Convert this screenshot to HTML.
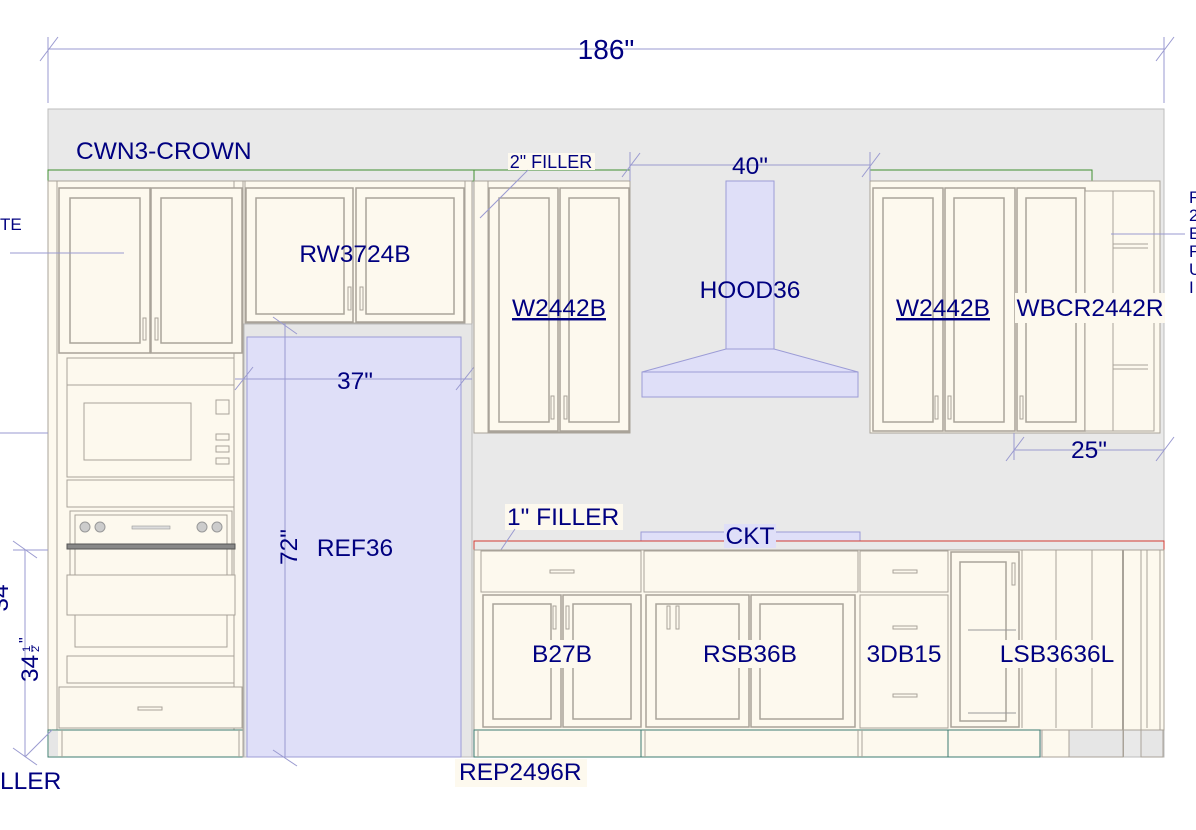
<!DOCTYPE html>
<html><head><meta charset="utf-8"><style>
html,body{margin:0;padding:0;background:#fff;}
svg{display:block;font-family:"Liberation Sans",Arial,sans-serif;}
.t{fill:#000080;}
.c{fill:#fdf9ee;stroke:#a9a399;stroke-width:1;}
.d{fill:#fdf9ee;stroke:#a9a399;stroke-width:1.5;}
.p{fill:none;stroke:#aaa49a;stroke-width:1.5;}
.dim{stroke:#9a9ad0;stroke-width:1;fill:none;}
.tk{fill:#fdf9ee;stroke:#3d7c72;stroke-width:1;}
.blue{fill:#dfdff8;stroke:#9c9cd6;stroke-width:1;}
.h{fill:#fdf9ee;stroke:#a9a399;stroke-width:1;}
</style></head><body>
<svg width="1196" height="830" viewBox="0 0 1196 830" xmlns="http://www.w3.org/2000/svg">
<rect width="1196" height="830" fill="#fff"/>
<line class="dim" x1="48" y1="49" x2="1164" y2="49"/>
<line class="dim" x1="48" y1="37" x2="48" y2="103"/>
<line class="dim" x1="1164" y1="37" x2="1164" y2="103"/>
<line class="dim" x1="40" y1="61" x2="58" y2="37"/>
<line class="dim" x1="1156" y1="61" x2="1174" y2="37"/>
<text class="t" x="606" y="59" font-size="28" text-anchor="middle">186"</text>
<rect x="48" y="109" width="1116" height="648" fill="#e9e9e9" stroke="#bdbdbd"/>
<rect x="48" y="170" width="426" height="11" fill="#e9e9e9" stroke="#3f8f30"/>
<rect x="474" y="170" width="156" height="11" fill="#e9e9e9" stroke="#3f8f30"/>
<rect x="870" y="170" width="222" height="11" fill="#e9e9e9" stroke="#3f8f30"/>
<text class="t" x="76" y="159" font-size="24.5">CWN3-CROWN</text>

<rect class="c" x="48" y="181" width="195" height="549"/>
<rect class="c" x="57" y="181" width="177" height="549"/>
<rect class="d" x="59" y="188" width="91" height="165"/>
<rect class="d" x="151" y="188" width="91" height="165"/>
<rect class="p" x="70" y="198" width="70" height="145"/>
<rect class="p" x="161" y="198" width="71" height="145"/>
<rect class="h" x="143" y="318" width="3" height="22"/><rect class="h" x="155" y="318" width="3" height="22"/>
<rect class="c" x="67" y="358" width="167" height="27"/>
<rect class="c" x="67" y="385" width="167" height="92"/>
<rect class="c" x="84" y="403" width="107" height="57"/>
<rect class="c" x="216" y="400" width="13" height="14"/>
<rect class="c" x="216" y="434" width="13" height="6"/><rect class="c" x="216" y="446" width="13" height="6"/><rect class="c" x="216" y="458" width="13" height="6"/>
<rect class="c" x="67" y="480" width="167" height="27"/>
<rect class="c" x="70" y="511" width="162" height="69"/>
<rect class="c" x="75" y="515" width="152" height="65"/>
<circle cx="85" cy="527" r="5" fill="#ccc" stroke="#999"/><circle cx="100" cy="527" r="5" fill="#ccc" stroke="#999"/>
<circle cx="202" cy="527" r="5" fill="#ccc" stroke="#999"/><circle cx="217" cy="527" r="5" fill="#ccc" stroke="#999"/>
<rect x="132" y="526" width="38" height="3" fill="#ddd" stroke="#999" stroke-width=".6"/>
<rect x="67" y="544" width="168" height="5" fill="#888" stroke="#555"/>
<rect class="c" x="67" y="575" width="168" height="40"/>
<rect class="c" x="75" y="615" width="152" height="32"/>
<rect class="c" x="67" y="656" width="167" height="27"/>
<rect class="c" x="59" y="687" width="183" height="41"/>
<rect class="h" x="138" y="707" width="24" height="3"/>
<rect class="tk" x="48" y="730" width="195" height="27"/>
<rect x="49" y="731" width="9" height="25" fill="#e6e6e6"/>
<line x1="62" y1="730" x2="62" y2="757" stroke="#a9a399"/>
<line x1="239" y1="730" x2="239" y2="757" stroke="#a9a399"/>

<rect class="c" x="243" y="181" width="229" height="576"/>
<rect class="c" x="245" y="181" width="220" height="142"/>
<rect class="d" x="246" y="188" width="107" height="134"/>
<rect class="d" x="356" y="188" width="108" height="134"/>
<rect class="p" x="256" y="198" width="88" height="116"/>
<rect class="p" x="366" y="198" width="88" height="116"/>
<rect class="h" x="348" y="287" width="3" height="23"/><rect class="h" x="360" y="287" width="3" height="23"/>
<text class="t" x="355" y="262" font-size="24.5" text-anchor="middle">RW3724B</text>
<rect x="244" y="324" width="228" height="433" fill="#e6e6e6" stroke="#bbb"/>
<rect class="blue" x="247" y="337" width="214" height="420"/>
<line class="dim" x1="235" y1="379" x2="472" y2="379"/>
<line class="dim" x1="235" y1="390" x2="253" y2="367"/>
<line class="dim" x1="456" y1="390" x2="474" y2="367"/>
<text class="t" x="355" y="389" font-size="24.5" text-anchor="middle">37"</text>
<line class="dim" x1="285" y1="323" x2="285" y2="757"/>
<line class="dim" x1="273" y1="317" x2="297" y2="334"/>
<line class="dim" x1="273" y1="750" x2="297" y2="766"/>
<text class="t" x="297" y="547" font-size="24.5" text-anchor="middle" transform="rotate(-90 297 547)">72"</text>
<text class="t" x="355" y="556" font-size="24.5" text-anchor="middle">REF36</text>

<line class="dim" x1="0" y1="433" x2="48" y2="433"/>
<line class="dim" x1="10" y1="253" x2="124" y2="253"/>
<text class="t" x="0" y="230" font-size="17">TE</text>
<line class="dim" x1="13" y1="550" x2="48" y2="550"/>
<line class="dim" x1="25" y1="550" x2="25" y2="757"/>
<line class="dim" x1="13" y1="541" x2="37" y2="558"/>
<line class="dim" x1="13" y1="748" x2="37" y2="765"/>
<line class="dim" x1="25" y1="757" x2="52" y2="730"/>
<text class="t" x="8" y="598" font-size="24.5" transform="rotate(-90 8 598)" text-anchor="middle">34</text>
<text class="t" x="38" y="682" font-size="24.5" transform="rotate(-90 38 682)">34</text>
<text class="t" x="30" y="652" font-size="11" transform="rotate(-90 30 652)">1</text>
<text class="t" x="39" y="652" font-size="11" transform="rotate(-90 39 652)">2</text>
<line x1="32" y1="645" x2="32" y2="652" stroke="#000080"/>
<text class="t" x="30" y="643" font-size="16" transform="rotate(-90 30 643)">"</text>
<text class="t" x="0" y="789" font-size="24.5">LLER</text>

<rect class="c" x="474" y="181" width="156" height="252"/>
<rect class="c" x="488" y="181" width="142" height="251"/>
<rect class="d" x="489" y="188" width="69" height="243"/>
<rect class="d" x="560" y="188" width="69" height="243"/>
<rect class="p" x="499" y="198" width="50" height="224"/>
<rect class="p" x="569" y="198" width="50" height="224"/>
<rect class="h" x="551" y="396" width="3" height="23"/><rect class="h" x="564" y="396" width="3" height="23"/>
<text class="t" x="559" y="316" font-size="24.5" text-anchor="middle" text-decoration="underline">W2442B</text>
<rect x="508" y="153" width="87" height="17" fill="#fdf9ee"/>
<text class="t" x="551" y="168" font-size="18" text-anchor="middle">2" FILLER</text>
<line class="dim" x1="480" y1="218" x2="528" y2="170"/>

<line class="dim" x1="630" y1="165" x2="870" y2="165"/>
<line class="dim" x1="630" y1="152" x2="630" y2="181"/>
<line class="dim" x1="870" y1="152" x2="870" y2="181"/>
<line class="dim" x1="622" y1="177" x2="640" y2="153"/>
<line class="dim" x1="862" y1="177" x2="880" y2="153"/>
<text class="t" x="750" y="174" font-size="24.5" text-anchor="middle">40"</text>
<rect class="blue" x="726" y="181" width="48" height="168"/>
<polygon class="blue" points="726,349 774,349 858,372 642,372"/>
<rect class="blue" x="642" y="372" width="216" height="25"/>
<text class="t" x="750" y="298" font-size="24.5" text-anchor="middle">HOOD36</text>

<rect class="c" x="870" y="181" width="290" height="252"/>
<rect class="d" x="873" y="188" width="70" height="243"/>
<rect class="d" x="945" y="188" width="70" height="243"/>
<rect class="p" x="883" y="198" width="50" height="224"/>
<rect class="p" x="954" y="198" width="50" height="224"/>
<rect class="h" x="935" y="396" width="3" height="23"/><rect class="h" x="948" y="396" width="3" height="23"/>
<rect class="d" x="1017" y="188" width="68" height="243"/>
<rect class="p" x="1026" y="198" width="50" height="224"/>
<rect class="h" x="1020" y="396" width="3" height="23"/>
<rect class="c" x="1085" y="191" width="69" height="240"/>
<line x1="1113" y1="191" x2="1113" y2="431" stroke="#a9a399"/>
<line x1="1113" y1="244" x2="1148" y2="244" stroke="#a9a399"/>
<line x1="1113" y1="248" x2="1148" y2="248" stroke="#a9a399"/>
<line x1="1113" y1="365" x2="1148" y2="365" stroke="#a9a399"/>
<line x1="1113" y1="369" x2="1148" y2="369" stroke="#a9a399"/>
<line class="dim" x1="1111" y1="234" x2="1185" y2="234"/>
<text class="t" x="943" y="316" font-size="24.5" text-anchor="middle" text-decoration="underline">W2442B</text>
<rect x="1015" y="293" width="150" height="30" fill="#fdf9ee"/>
<text class="t" x="1090" y="316" font-size="24.5" text-anchor="middle">WBCR2442R</text>
<line class="dim" x1="1014" y1="450" x2="1164" y2="450"/>
<line class="dim" x1="1014" y1="433" x2="1014" y2="460"/>
<line class="dim" x1="1006" y1="461" x2="1024" y2="437"/>
<line class="dim" x1="1156" y1="461" x2="1174" y2="437"/>
<text class="t" x="1089" y="458" font-size="24.5" text-anchor="middle">25"</text>
<g class="t" font-size="17">
<text x="1189" y="203">F</text><text x="1189" y="221">2</text><text x="1189" y="239">E</text>
<text x="1189" y="257">F</text><text x="1189" y="275">U</text><text x="1189" y="293">I</text>
</g>

<rect class="blue" x="641" y="532" width="219" height="9"/>
<rect x="474" y="541" width="690" height="9" fill="#e9e9e9" stroke="#d23a32"/>
<rect x="724" y="524" width="52" height="24" fill="#dfdff8"/>
<text class="t" x="750" y="544" font-size="24.5" text-anchor="middle">CKT</text>
<rect x="505" y="504" width="118" height="26" fill="#fdf9ee"/>
<text class="t" x="507" y="525" font-size="24.5">1" FILLER</text>
<line class="dim" x1="482" y1="578" x2="515" y2="529"/>

<rect class="c" x="474" y="550" width="690" height="180"/>
<rect class="c" x="481" y="551" width="160" height="41"/>
<rect class="h" x="550" y="570" width="24" height="3"/>
<rect class="d" x="483" y="595" width="78" height="132"/>
<rect class="d" x="563" y="595" width="78" height="132"/>
<rect class="p" x="493" y="604" width="58" height="115"/>
<rect class="p" x="573" y="604" width="58" height="115"/>
<rect class="h" x="553" y="606" width="3" height="23"/><rect class="h" x="566" y="606" width="3" height="23"/>
<rect class="c" x="644" y="551" width="214" height="41"/>
<rect class="d" x="646" y="595" width="103" height="132"/>
<rect class="d" x="751" y="595" width="104" height="132"/>
<rect class="p" x="656" y="604" width="83" height="115"/>
<rect class="p" x="760" y="604" width="83" height="115"/>
<rect class="h" x="667" y="606" width="3" height="23"/><rect class="h" x="676" y="606" width="3" height="23"/>
<rect class="c" x="860" y="551" width="88" height="41"/>
<rect class="c" x="860" y="595" width="88" height="133"/>
<rect class="h" x="893" y="570" width="24" height="3"/>
<rect class="h" x="893" y="626" width="24" height="3"/>
<rect class="h" x="893" y="694" width="24" height="3"/>
<rect class="d" x="951" y="552" width="68" height="175"/>
<rect class="p" x="960" y="562" width="46" height="159"/>
<rect class="h" x="1012" y="563" width="3" height="22"/>
<line x1="968" y1="630" x2="1016" y2="630" stroke="#999"/>
<line x1="968" y1="713" x2="1016" y2="713" stroke="#999"/>
<line x1="1022" y1="550" x2="1022" y2="728" stroke="#a9a399"/>
<line x1="1056" y1="550" x2="1056" y2="728" stroke="#a9a399"/>
<line x1="1092" y1="550" x2="1092" y2="728" stroke="#a9a399"/>
<line x1="1123" y1="550" x2="1123" y2="757" stroke="#a9a399" stroke-width="2"/>
<line x1="1141" y1="550" x2="1141" y2="757" stroke="#a9a399"/>
<line x1="1147" y1="550" x2="1147" y2="728" stroke="#a9a399"/>
<line x1="1160" y1="550" x2="1160" y2="757" stroke="#a9a399"/>
<rect x="530" y="640" width="64" height="28" fill="#fdf9ee"/>
<text class="t" x="562" y="662" font-size="24.5" text-anchor="middle">B27B</text>
<rect x="692" y="640" width="116" height="28" fill="#fdf9ee"/>
<text class="t" x="750" y="662" font-size="24.5" text-anchor="middle">RSB36B</text>
<rect x="861" y="640" width="86" height="28" fill="#fdf9ee"/>
<text class="t" x="904" y="662" font-size="24.5" text-anchor="middle">3DB15</text>
<rect x="995" y="640" width="124" height="28" fill="#fdf9ee"/>
<text class="t" x="1057" y="662" font-size="24.5" text-anchor="middle">LSB3636L</text>

<rect class="tk" x="474" y="730" width="566" height="27"/>
<line x1="478" y1="730" x2="478" y2="757" stroke="#a9a399"/>
<line x1="641" y1="730" x2="641" y2="757" stroke="#3d7c72"/>
<line x1="645" y1="730" x2="645" y2="757" stroke="#a9a399"/>
<line x1="858" y1="730" x2="858" y2="757" stroke="#a9a399"/>
<line x1="862" y1="730" x2="862" y2="757" stroke="#a9a399"/>
<line x1="948" y1="730" x2="948" y2="757" stroke="#3d7c72"/>
<rect x="1042" y="730" width="27" height="27" fill="#fdf9ee" stroke="#a9a399"/>
<rect x="1069" y="730" width="54" height="27" fill="#e6e6e6" stroke="#a9a399"/>
<rect x="1141" y="730" width="22" height="27" fill="#e6e6e6" stroke="#a9a399"/>
<rect x="455" y="759" width="132" height="28" fill="#fdf9ee"/>
<text class="t" x="459" y="780" font-size="24.5">REP2496R</text>
</svg>
</body></html>
